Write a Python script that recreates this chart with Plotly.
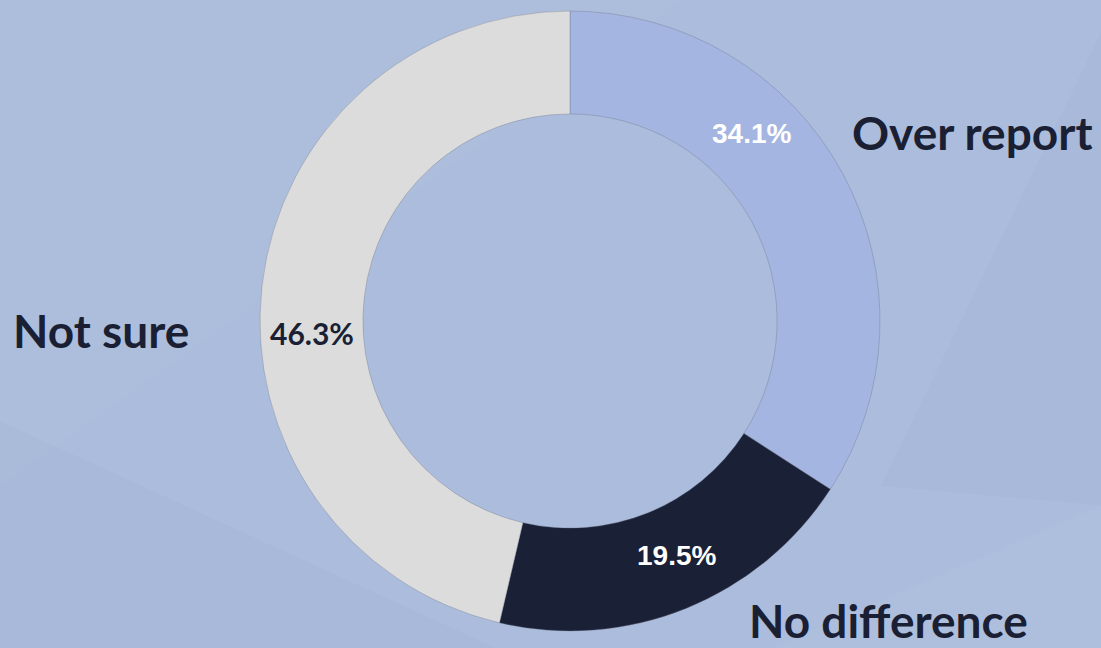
import plotly.graph_objects as go

categories = ["Over report", "No difference", "Not sure"]
values = [34.1, 19.5, 46.3]
slice_colors = ["#a3b5e0", "#1a2035", "#dcdcdc"]
pct_colors = ["#ffffff", "#ffffff", "#1a1f33"]

W, H = 1101, 648
cx, cy, r = 570, 321, 310

fig = go.Figure()
fig.add_trace(go.Pie(
    labels=categories,
    values=values,
    sort=False,
    direction="clockwise",
    rotation=0,
    hole=0.668,
    marker=dict(colors=slice_colors, line=dict(color="rgba(110,115,135,0.45)", width=0.8)),
    textinfo="none",
    hoverinfo="label+percent",
    showlegend=False,
    domain=dict(x=[(cx - r) / W, (cx + r) / W],
                y=[(H - cy - r) / H, (H - cy + r) / H]),
))

# background facets
shapes = [
    dict(type="path", path="M 0.0,0.25 L 0.62,1.0 L 0.0,1.0 Z",
         fillcolor="rgba(255,255,255,0.035)", line=dict(width=0), xref="paper", yref="paper", layer="below"),
    dict(type="path", path="M 0.0,0.0 L 0.0,0.35 L 0.45,0.0 Z",
         fillcolor="rgba(120,135,175,0.05)", line=dict(width=0), xref="paper", yref="paper", layer="below"),
    dict(type="path", path="M 0.70,0.0 L 1.0,0.22 L 1.0,0.0 Z",
         fillcolor="rgba(255,255,255,0.04)", line=dict(width=0), xref="paper", yref="paper", layer="below"),
    dict(type="path", path="M 0.80,0.25 L 1.0,0.95 L 1.0,0.22 Z",
         fillcolor="rgba(120,135,175,0.04)", line=dict(width=0), xref="paper", yref="paper", layer="below"),
]

# percent labels (pixel positions from the reference)
pct_pos = [(751, 133), (676, 555), (312, 333)]
pct_fonts = ["Liberation Sans, Arial", "Liberation Sans, Arial", "Lato, sans-serif"]
pct_sizes = [28, 28, 30]
annotations = []
for v, (px, py), c, f, s in zip(values, pct_pos, pct_colors, pct_fonts, pct_sizes):
    annotations.append(dict(
        x=px / W, y=1 - py / H, xref="paper", yref="paper",
        text=f"<b>{v:.1f}%</b>", showarrow=False,
        font=dict(family=f, size=s, color=c),
        xanchor="center", yanchor="middle"))

cat_pos = [(972, 132), (888, 620), (101, 330)]
for name, (px, py) in zip(categories, cat_pos):
    annotations.append(dict(
        x=px / W, y=1 - py / H, xref="paper", yref="paper",
        text=f"<b>{name}</b>", showarrow=False,
        font=dict(family="Lato, Open Sans, sans-serif", size=46, color="#1a1f33"),
        xanchor="center", yanchor="middle"))

fig.update_layout(
    width=W, height=H,
    margin=dict(l=0, r=0, t=0, b=0),
    paper_bgcolor="#abbcdc",
    plot_bgcolor="#abbcdc",
    shapes=shapes,
    annotations=annotations,
)

fig.write_html("out.html", config={"displayModeBar": False},
               post_script="document.body.style.margin='0';document.body.style.overflow='hidden';")
